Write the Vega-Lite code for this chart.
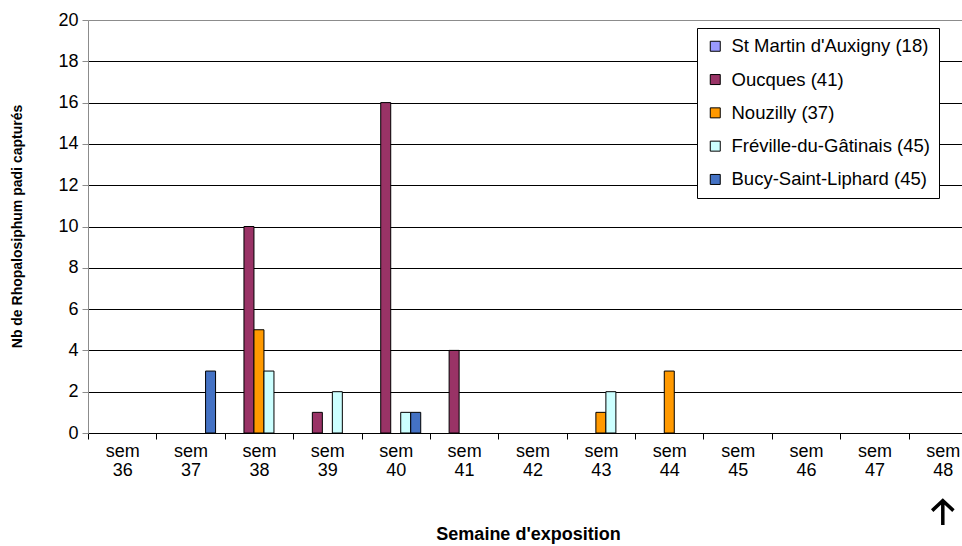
{
  "$schema": "https://vega.github.io/schema/vega-lite/v6.json",
  "autosize": {"type": "none"},
  "padding": {"left": 88, "top": 20, "right": 0, "bottom": 113},
  "width": 874,
  "height": 413,
  "background": "white",
  "config": {
    "view": {"stroke": null},
    "font": "Liberation Sans",
    "axis": {"labelFont": "Liberation Sans", "titleFont": "Liberation Sans", "labelColor": "black", "titleColor": "black"},
    "legend": {"labelFont": "Liberation Sans"}
  },
  "datasets": {
    "counts": [
      {"sem": "sem 37", "site": "Bucy-Saint-Liphard (45)", "n": 3},
      {"sem": "sem 38", "site": "Oucques (41)", "n": 10},
      {"sem": "sem 38", "site": "Nouzilly (37)", "n": 5},
      {"sem": "sem 38", "site": "Fréville-du-Gâtinais (45)", "n": 3},
      {"sem": "sem 39", "site": "Oucques (41)", "n": 1},
      {"sem": "sem 39", "site": "Fréville-du-Gâtinais (45)", "n": 2},
      {"sem": "sem 40", "site": "Oucques (41)", "n": 16},
      {"sem": "sem 40", "site": "Fréville-du-Gâtinais (45)", "n": 1},
      {"sem": "sem 40", "site": "Bucy-Saint-Liphard (45)", "n": 1},
      {"sem": "sem 41", "site": "Oucques (41)", "n": 4},
      {"sem": "sem 43", "site": "Nouzilly (37)", "n": 1},
      {"sem": "sem 43", "site": "Fréville-du-Gâtinais (45)", "n": 2},
      {"sem": "sem 44", "site": "Nouzilly (37)", "n": 3}
    ],
    "arrow": [{"sem": "sem 48"}]
  },
  "layer": [
    {
      "data": {"name": "counts"},
      "mark": {"type": "bar", "stroke": "black", "strokeWidth": 1},
      "encoding": {
        "x": {
          "field": "sem", "type": "nominal",
          "scale": {
            "domain": ["sem 36","sem 37","sem 38","sem 39","sem 40","sem 41","sem 42","sem 43","sem 44","sem 45","sem 46","sem 47","sem 48"],
            "range": [0, 889], "paddingInner": 0, "paddingOuter": 0
          },
          "axis": {
            "labelAngle": 0, "tickBand": "extent", "ticks": true, "tickSize": 6, "tickColor": "black",
            "domainColor": "black", "grid": false,
            "labelExpr": "split(datum.label, ' ')", "labelLineHeight": 19, "labelFontSize": 18, "labelPadding": 3,
            "title": "Semaine d'exposition", "titleFontSize": 18, "titleFontWeight": "bold",
            "titleX": 440, "titleY": 106, "titleBaseline": "alphabetic"
          }
        },
        "xOffset": {
          "field": "site", "type": "nominal",
          "scale": {
            "domain": ["St Martin d'Auxigny (18)","Oucques (41)","Nouzilly (37)","Fréville-du-Gâtinais (45)","Bucy-Saint-Liphard (45)"],
            "paddingInner": 0, "paddingOuter": 0.92
          }
        },
        "y": {
          "field": "n", "type": "quantitative",
          "scale": {"domain": [0, 20], "nice": false},
          "axis": {
            "values": [0,2,4,6,8,10,12,14,16,18,20],
            "grid": true,
            "gridColor": {"condition": {"test": "datum.value === 20", "value": "#8c8c8c"}, "value": "black"},
            "gridWidth": 1,
            "domainColor": "#8c8c8c", "tickColor": "#8c8c8c", "tickSize": 6,
            "labelFontSize": 18, "labelPadding": 4,
            "title": "Nb de Rhopalosiphum padi capturés", "titleFontSize": 14, "titleFontWeight": "bold",
            "titleX": -71, "titleY": 206, "titleBaseline": "middle"
          }
        },
        "color": {
          "field": "site", "type": "nominal",
          "scale": {
            "domain": ["St Martin d'Auxigny (18)","Oucques (41)","Nouzilly (37)","Fréville-du-Gâtinais (45)","Bucy-Saint-Liphard (45)"],
            "range": ["#9999FF","#993366","#FF9900","#CCFFFF","#4472C4"]
          },
          "legend": {
            "title": null, "orient": "none", "legendX": 609, "legendY": 8,
            "strokeColor": "black", "fillColor": "white", "padding": 9,
            "symbolType": "square", "symbolSize": 100, "symbolStrokeColor": "black", "symbolStrokeWidth": 1,
            "labelFontSize": 18.5, "labelColor": "black", "labelOffset": 7, "rowPadding": 14.3, "labelLimit": 0
          }
        }
      }
    },
    {
      "data": {"name": "arrow"},
      "mark": {
        "type": "point",
        "shape": "M0,1 L0,-0.85 M-0.85,-0.15 L0,-0.95 L0.85,-0.15",
        "filled": false, "stroke": "black", "strokeWidth": 3.5, "size": 625, "opacity": 1
      },
      "encoding": {
        "x": {"field": "sem", "type": "nominal"},
        "y": {"datum": -3.85}
      }
    }
  ]
}
